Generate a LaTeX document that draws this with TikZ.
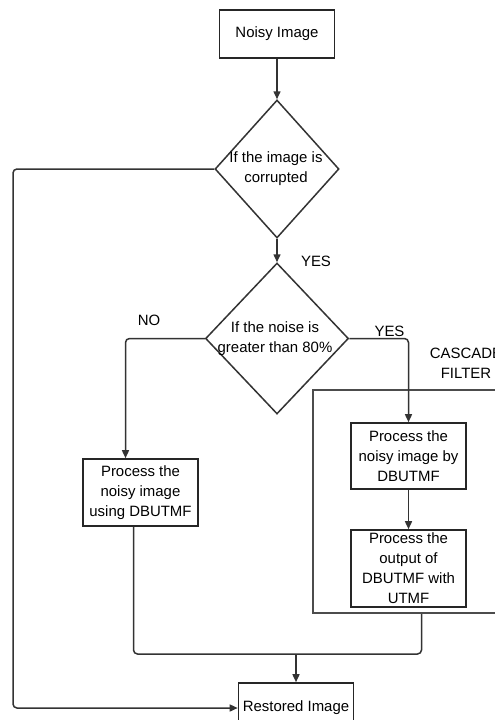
\documentclass[tikz,border=0pt]{standalone}
\usepackage{fontspec}
\setmainfont{Liberation Sans}
\usetikzlibrary{shapes.geometric,arrows.meta}

\begin{document}
\begin{tikzpicture}[x=1bp, y=-1bp,
  every node/.style={font=\fontsize{15}{20}\selectfont, text=black},
  proc/.style={draw=black!85, line width=1.6bp, minimum width=115bp, inner sep=0pt, align=center, fill=white},
  decision/.style={draw=black!80, line width=1.5bp, diamond, inner sep=0pt},
  flow/.style={draw=black!80, line width=1.5bp, rounded corners=4bp},
  arr/.style={-{Triangle[length=8bp,width=7bp]}}]

\path[fill=white, use as bounding box] (0,0) rectangle (495,720);

\node[proc, minimum height=48bp] (noisy) at (277,34) {Noisy Image};

\node[decision, minimum width=124bp, minimum height=138bp] (cor) at (277,169) {};
\node[align=center] (cortxt) at (276,169) {If the image is\\corrupted};
\draw[flow, arr] (noisy) -- (cor);

\node[decision, minimum width=143bp, minimum height=151bp] (noise) at (277,338.5) {};
\node[align=center] (noisetxt) at (275,339) {If the noise is\\greater than 80\%};
\draw[flow, arr] (cor) -- (noise);
\node (yesa) at (316,261) {YES};

\node[draw=black!70, line width=2bp, minimum width=217bp, minimum height=223bp, inner sep=0pt] (casc) at (421.5,501.5) {};
\node[align=center] (casclbl) at (466,363) {CASCADE\\FILTER};

\node[proc, minimum height=67bp] (dbu) at (140.5,492.5) {Process the\\noisy image\\using DBUTMF};
\node[proc, minimum height=66bp] (pa) at (408.5,456) {Process the\\noisy image by\\DBUTMF};
\node[proc, minimum height=77bp] (pb) at (408.5,568.5) {Process the\\output of\\DBUTMF with\\UTMF};
\node[proc, minimum height=50bp] (rest) at (296,708) {Restored Image};

\draw[flow, arr] (noise.west) -| ([xshift=-15bp]dbu.north);
\node (no) at (149,320.5) {NO};
\draw[flow, arr] (noise.east) -| (pa.north);
\node (yesb) at (389.5,331) {YES};
\draw[flow, arr] (pa) -- (pb);

\coordinate (merge) at (296,654);
\draw[flow] ([xshift=-7bp]dbu.south) |- (merge) -| (casc.south);
\draw[flow, arr] (merge) -- (rest);

\coordinate (farleft) at (13,169);
\draw[flow, arr] (cor.west) -- (farleft) |- (rest.west);

\end{tikzpicture}
\end{document}
